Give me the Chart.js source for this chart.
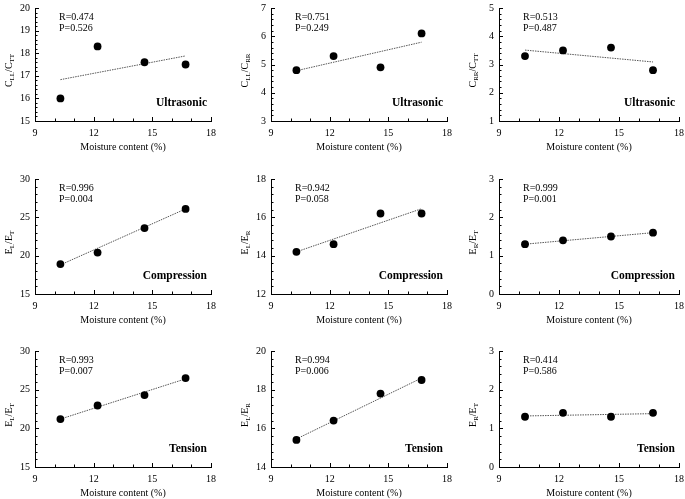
<!DOCTYPE html>
<html>
<head>
<meta charset="utf-8">
<script src="https://cdn.jsdelivr.net/npm/chart.js@4"></script>
<style>
  html, body { margin: 0; padding: 0; background: #fff; }
  #wrap { position: relative; width: 685px; height: 499px; overflow: hidden; background: #fff; }
  #wrap canvas { position: absolute; }
</style>
</head>
<body>
<div id="wrap"></div>
<script>
// shared x data
const moisture = [10.3, 12.2, 14.6, 16.7];
const trendEnds = [10.3, 16.7];
const xTickLabels = [9, 12, 15, 18];

// Ultrasonic
const usLlTt = [16.0, 18.3, 17.6, 17.5];
const trendUsLlTt = [16.83, 17.88];
const yTicksUsLlTt = [15, 16, 17, 18, 19, 20];

const usLlRr = [4.8, 5.3, 4.9, 6.1];
const trendUsLlRr = [4.78, 5.79];
const yTicksUsLlRr = [3, 4, 5, 6, 7];

const usRrTt = [3.3, 3.5, 3.6, 2.8];
const trendUsRrTt = [3.51, 3.09];
const yTicksUsRrTt = [1, 2, 3, 4, 5];

// Compression
const coLT = [18.9, 20.4, 23.6, 26.1];
const trendCoLT = [18.8, 26.1];
const yTicksCoLT = [15, 20, 25, 30];

const coLR = [14.2, 14.6, 16.2, 16.2];
const trendCoLR = [14.2, 16.45];
const yTicksCoLR = [12, 14, 16, 18];

const coRT = [1.3, 1.4, 1.5, 1.6];
const trendCoRT = [1.3, 1.6];
const yTicksCoRT = [0, 1, 2, 3];

// Tension
const teLT = [21.2, 22.95, 24.3, 26.5];
const trendTeLT = [21.2, 26.4];
const yTicksTeLT = [15, 20, 25, 30];

const teLR = [15.4, 16.4, 17.8, 18.5];
const trendTeLR = [15.45, 18.6];
const yTicksTeLR = [14, 16, 18, 20];

const teRT = [1.3, 1.4, 1.3, 1.4];
const trendTeRT = [1.32, 1.38];
const yTicksTeRT = [0, 1, 2, 3];

const stats = [
  ['R=0.474', 'P=0.526'], ['R=0.751', 'P=0.249'], ['R=0.513', 'P=0.487'],
  ['R=0.996', 'P=0.004'], ['R=0.942', 'P=0.058'], ['R=0.999', 'P=0.001'],
  ['R=0.993', 'P=0.007'], ['R=0.994', 'P=0.006'], ['R=0.414', 'P=0.586'],
];
const tests = ['Ultrasonic', 'Compression', 'Tension'];
// y titles as [text, isSubscript] pieces
const yTitles = [
  [['C', 0], ['LL', 1], ['/C', 0], ['TT', 1]],
  [['C', 0], ['LL', 1], ['/C', 0], ['RR', 1]],
  [['C', 0], ['RR', 1], ['/C', 0], ['TT', 1]],
  [['E', 0], ['L', 1], ['/E', 0], ['T', 1]],
  [['E', 0], ['L', 1], ['/E', 0], ['R', 1]],
  [['E', 0], ['R', 1], ['/E', 0], ['T', 1]],
];

const series = [
  [usLlTt, trendUsLlTt, yTicksUsLlTt], [usLlRr, trendUsLlRr, yTicksUsLlRr], [usRrTt, trendUsRrTt, yTicksUsRrTt],
  [coLT, trendCoLT, yTicksCoLT], [coLR, trendCoLR, yTicksCoLR], [coRT, trendCoRT, yTicksCoRT],
  [teLT, trendTeLT, yTicksTeLT], [teLR, trendTeLR, yTicksTeLR], [teRT, trendTeRT, yTicksTeRT],
];

// layout of the axes boxes (pixels)
const colLeft = [35, 271, 499];
const colRight = [212, 448, 680];
const rowTop = [5, 176, 348];
const rowBottom = [121, 294, 467];
const PAD_L = 36, PAD_T = 8, PAD_R = 10, PAD_B = 36;

const SERIF = "'Liberation Serif', 'Times New Roman', serif";

// inward tick marks, majors from the scale + minor subdivisions
const inTicks = {
  id: 'inTicks',
  afterDraw(chart) {
    const { ctx, chartArea: a, scales: { x, y } } = chart;
    ctx.save();
    ctx.strokeStyle = '#000';
    ctx.lineWidth = 1;
    const draw = (scale, n, isX) => {
      const vals = scale.ticks.map(t => t.value);
      for (let i = 0; i < vals.length; i++) {
        const list = [[vals[i], 4]];
        if (i < vals.length - 1) {
          for (let k = 1; k < n; k++) list.push([vals[i] + (vals[i + 1] - vals[i]) * k / n, 2.5]);
        }
        list.forEach(([v, len]) => {
          const p = Math.round(scale.getPixelForValue(v)) + 0.5;
          ctx.beginPath();
          if (isX) { ctx.moveTo(p, a.bottom); ctx.lineTo(p, a.bottom - len); }
          else { ctx.moveTo(a.left, p); ctx.lineTo(a.left + len, p); }
          ctx.stroke();
        });
      }
    };
    draw(x, 3, true);
    draw(y, 5, false);
    ctx.restore();
  }
};

// R/P text, test name and subscripted y title
const panelText = {
  id: 'panelText',
  afterDraw(chart, args, o) {
    const { ctx, chartArea: a } = chart;
    ctx.save();
    ctx.fillStyle = '#000';
    ctx.textBaseline = 'middle';
    ctx.font = `10px ${SERIF}`;
    ctx.textAlign = 'left';
    ctx.fillText(o.stat[0], a.left + 24, a.top + 9);
    ctx.fillText(o.stat[1], a.left + 24, a.top + 20);
    ctx.font = `bold 11.5px ${SERIF}`;
    ctx.textAlign = 'right';
    ctx.fillText(o.test, a.right - 4, a.bottom - 18);

    // y title
    ctx.translate(a.left - 27, (a.top + a.bottom) / 2 + 6);
    ctx.rotate(-Math.PI / 2);
    ctx.textAlign = 'left';
    ctx.textBaseline = 'alphabetic';
    const mainF = `10px ${SERIF}`, subF = `7px ${SERIF}`;
    let w = 0;
    o.title.forEach(([t, s]) => { ctx.font = s ? subF : mainF; w += ctx.measureText(t).width; });
    let cx = -w / 2;
    o.title.forEach(([t, s]) => {
      ctx.font = s ? subF : mainF;
      ctx.fillText(t, cx, s ? 5.5 : 3.5);
      cx += ctx.measureText(t).width;
    });
    ctx.restore();
  }
};

const wrap = document.getElementById('wrap');

series.forEach(([ys, trend, yTicks], i) => {
  const r = Math.floor(i / 3), c = i % 3;
  const ax = colLeft[c], top = rowTop[r];
  const w = colRight[c] - ax + PAD_L + PAD_R;
  const h = rowBottom[r] - top + PAD_T + PAD_B;
  const canvas = document.createElement('canvas');
  canvas.width = w; canvas.height = h;
  canvas.style.left = (ax - PAD_L) + 'px';
  canvas.style.top = (top - PAD_T) + 'px';
  canvas.style.width = w + 'px';
  canvas.style.height = h + 'px';
  wrap.appendChild(canvas);

  const yTitle = yTitles[i % 3 + (r > 0 ? 3 : 0)];

  new Chart(canvas, {
    type: 'scatter',
    data: {
      datasets: [
        {
          data: moisture.map((x, k) => ({ x, y: ys[k] })),
          pointRadius: 3.9,
          pointBackgroundColor: '#000',
          pointBorderColor: '#000',
          pointBorderWidth: 0,
        },
        {
          data: trendEnds.map((x, k) => ({ x, y: trend[k] })),
          showLine: true,
          borderColor: '#555',
          borderWidth: 1,
          borderDash: [1.5, 1],
          pointRadius: 0,
        },
      ],
    },
    options: {
      responsive: false,
      animation: false,
      events: [],
      layout: { padding: { top: PAD_T, right: PAD_R, left: 0, bottom: 0 } },
      plugins: {
        legend: { display: false },
        tooltip: { enabled: false },
        panelText: { stat: stats[i], test: tests[r], title: yTitle },
      },
      scales: {
        x: {
          type: 'linear',
          min: xTickLabels[0],
          max: xTickLabels[xTickLabels.length - 1],
          afterBuildTicks: s => { s.ticks = xTickLabels.map(v => ({ value: v })); },
          afterFit: s => { s.height = PAD_B; },
          grid: { display: false, drawTicks: false },
          border: { display: true, color: '#000', width: 1 },
          ticks: { color: '#000', padding: 6, font: { family: SERIF, size: 10 }, maxRotation: 0 },
          title: { display: true, text: 'Moisture content (%)', color: '#000', font: { family: SERIF, size: 10 }, padding: { top: 0, bottom: 3.5 } },
        },
        y: {
          min: yTicks[0],
          max: yTicks[yTicks.length - 1],
          afterBuildTicks: s => { s.ticks = yTicks.map(v => ({ value: v })); },
          afterFit: s => { s.width = PAD_L; },
          grid: { display: false, drawTicks: false },
          border: { display: true, color: '#000', width: 1 },
          ticks: { color: '#000', padding: 5, font: { family: SERIF, size: 10 } },
        },
      },
    },
    plugins: [inTicks, panelText],
  });
});
</script>
</body>
</html>
